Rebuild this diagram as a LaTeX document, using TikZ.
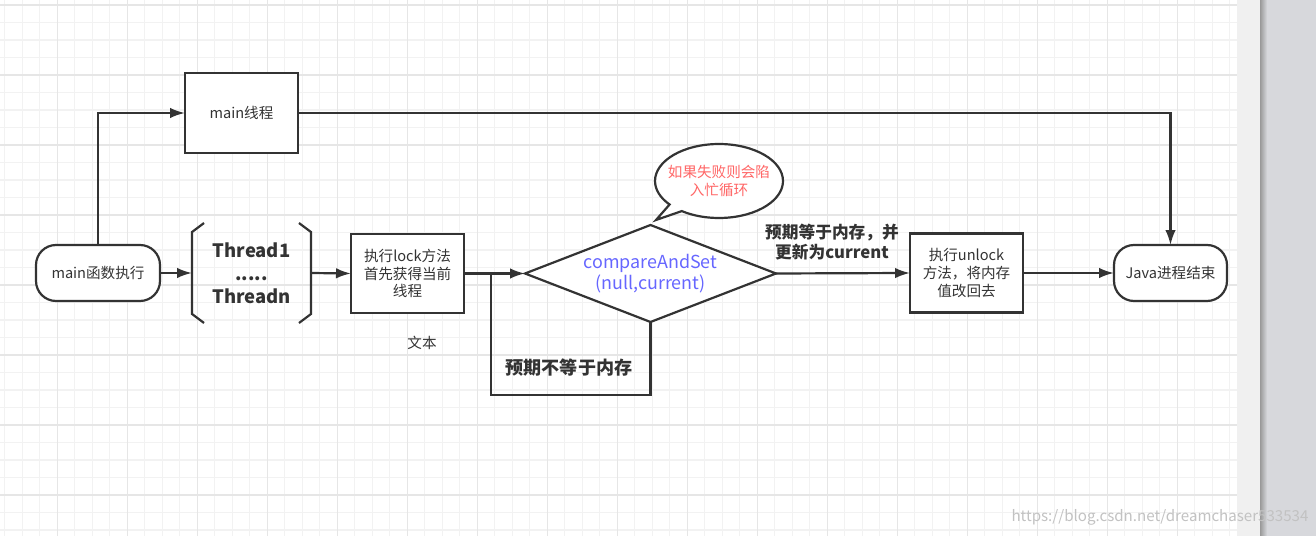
\documentclass[tikz,border=0pt]{standalone}
\usepackage{fontspec}
\setmainfont{Noto Sans CJK SC}
\usetikzlibrary{shapes.geometric,shapes.callouts,arrows.meta}
\definecolor{ink}{HTML}{333333}
\definecolor{casblue}{HTML}{6666FF}
\definecolor{warnred}{HTML}{FF6666}
\definecolor{gridminor}{HTML}{F2F2F2}
\definecolor{gridmajor}{HTML}{E6E6E6}
\definecolor{sidepanel}{HTML}{D7D8DC}

\begin{document}
\begin{tikzpicture}[
  x=0.02cm, y=-0.02cm,
  >={Latex[length=3mm,width=2.1mm]},
  flow/.style={draw=ink, line width=1.25pt},
  term/.style={
      draw=ink, line width=1.25pt, fill=white,
      rounded corners=0.4cm, outer sep=0pt,
      minimum width=2.26cm, minimum height=1.12cm,
      text=ink, font=\fontsize{8.3}{10.5}\selectfont
  },
  proc/.style={
      draw=ink, line width=1.25pt, fill=white, outer sep=0pt,
      minimum width=2.26cm, minimum height=1.58cm,
      align=center, text=ink, font=\fontsize{8.3}{10}\selectfont
  },
  threadbox/.style={
      outer sep=0pt, minimum width=2.38cm, minimum height=2cm,
      align=center, text=ink, font=\bfseries\fontsize{10.5}{13}\selectfont
  },
  casnode/.style={
      diamond, shape aspect=2.59, draw=ink, line width=1.25pt, fill=white,
      inner sep=0pt, outer sep=0pt, minimum width=5.02cm, minimum height=1.94cm,
      align=center, text=casblue, font=\fontsize{10.2}{12.3}\selectfont
  },
  bubble/.style={
      ellipse callout, draw=ink, line width=1.25pt, fill=white,
      minimum width=2.56cm, minimum height=1.48cm
  },
  note/.style={align=center, text=ink, font=\bfseries\fontsize{9.5}{11.3}\selectfont}
]

% canvas
\useasboundingbox (0,0) rectangle (1316,536);
\fill[white] (0,0) rectangle (1237,536);
\foreach \i in {0,...,71}
  \draw[gridminor, line width=0.6pt] ({-12.7+17.5*\i},0) -- ({-12.7+17.5*\i},536);
\foreach \i in {0,...,31}
  \draw[gridminor, line width=0.6pt] (0,{-12.5+17.5*\i}) -- (1237,{-12.5+17.5*\i});
\foreach \i in {1,...,17}
  \draw[gridmajor, line width=0.6pt] ({-12.7+70*\i},0) -- ({-12.7+70*\i},536);
\foreach \i in {0,...,7}
  \draw[gridmajor, line width=0.6pt] (0,{5+70*\i}) -- (1237,{5+70*\i});
\fill[black!6] (1237,0) rectangle (1260,536);
\fill[sidepanel] (1260,0) rectangle (1316,536);
\shade[left color=black!40, right color=sidepanel] (1260,0) rectangle (1267,536);

\node[term, minimum width=2.48cm] (start) at (98,273) {main函数执行};
\node[proc, minimum height=1.6cm] (mainthread) at (241.5,113) {main线程};
\node[threadbox] (threads) at (251.5,273) {Thread1\\.....\\Threadn};
\node[proc] (lock) at (407.5,273.5) {执行lock方法\\首先获得当前\\线程};
\node[text=ink, font=\fontsize{8.3}{10}\selectfont] (plain) at (422,343) {文本};
\node[casnode] (cas) at (650.5,273.5) {compareAndSet\\(null,current)};
\node[bubble, callout absolute pointer={(656,220)},
  label={[text=warnred, align=center, font=\fontsize{8.3}{10.2}\selectfont]center:如果失败则会陷\\入忙循环}]
  (warn) at (719,181) {};
\node[note] (eqlabel) at (832,242) {预期等于内存，并\\更新为current};
\node[note, font=\bfseries\fontsize{10.3}{12}\selectfont] (nelabel) at (569,368) {预期不等于内存};
\node[proc] (unlock) at (966.5,273) {执行unlock\\方法，将内存\\值改回去};
\node[term] (finish) at (1170.5,273) {Java进程结束};
\node[text=black!24, font=\fontsize{8.6}{10}\selectfont] (mark) at (1160,517)
  {https://blog.csdn.net/dreamchaser533534};

\draw[flow] (threads.north west) ++(12,0) -- ++(-12,9) -- ++(0,82) -- ++(12,9);
\draw[flow] (threads.north east) ++(-12,0) -- ++(12,9) -- ++(0,82) -- ++(-12,9);

\coordinate (rejoin) at (491,273.5);

\draw[flow,->] (start.north) |- (mainthread.west);
\draw[flow,->] (start.east) -- (threads.west);
\draw[flow,->] (threads.east) -- (lock.west);
\draw[flow,->] (lock.east) -- (cas.west);
\draw[flow,->] (cas.east) -- (unlock.west);
\draw[flow,->] (unlock.east) -- (finish.west);
\draw[flow,->] (mainthread.east) -| (finish.north);
\draw[flow] (cas.south) -- ++(0,73) -| (rejoin);

\end{tikzpicture}
\end{document}
